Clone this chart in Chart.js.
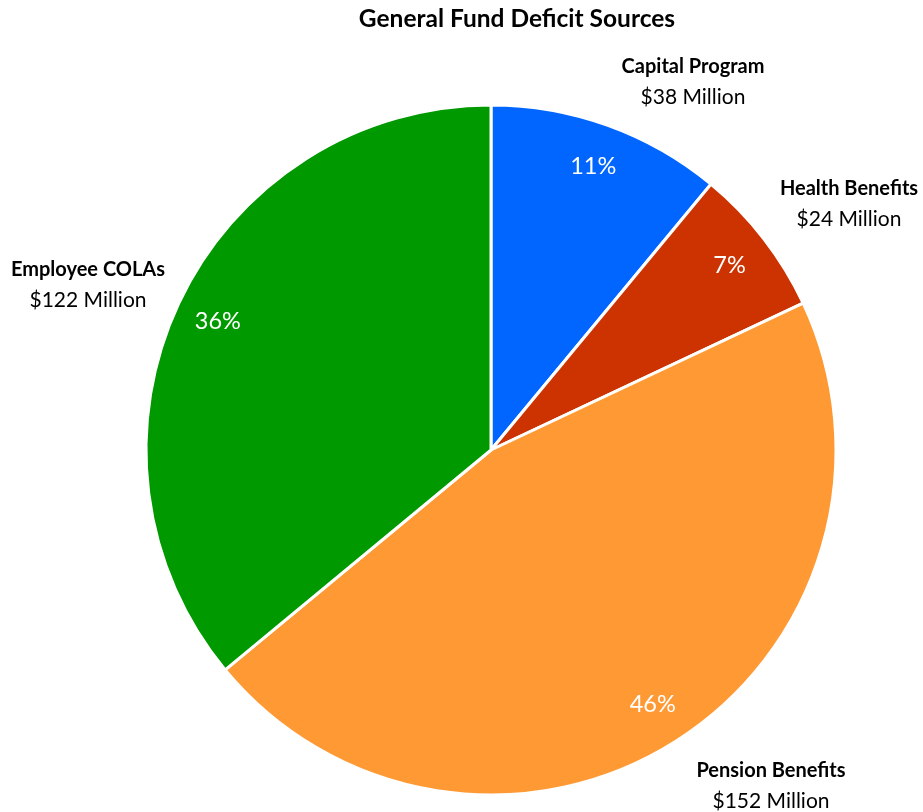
<!DOCTYPE html>
<html>
<head>
<meta charset="utf-8">
<script src="https://cdn.jsdelivr.net/npm/chart.js@4.4.1/dist/chart.umd.min.js"></script>
<style>
  html, body { margin: 0; padding: 0; background: #ffffff; }
  #wrap { width: 923px; height: 812px; }
</style>
</head>
<body>
<div id="wrap"><canvas id="c" width="923" height="812"></canvas></div>
<script>
// Deficit sources, in display order (clockwise from 12 o'clock)
const categories = ['Capital Program', 'Health Benefits', 'Pension Benefits', 'Employee COLAs'];
const shareOfDeficit = [11, 7, 46, 36];          // percent of the total deficit
const amountMillions = [38, 24, 152, 122];       // $ millions
const sliceColors = ['#0066FF', '#CC3300', '#FF9933', '#009900'];

const FONT = 'Lato, "Open Sans", "Liberation Sans", sans-serif';

// Where each category label sits, relative to the pie centre (px)
const calloutOffsets = [
  { dx: 202, dy: -368 },
  { dx: 358, dy: -246 },
  { dx: 280, dy: 336 },
  { dx: -403, dy: -165 }
];

const labelPlugin = {
  id: 'sliceLabels',
  afterDatasetsDraw(chart) {
    const ctx = chart.ctx;
    const meta = chart.getDatasetMeta(0);
    const data = chart.data.datasets[0].data;
    ctx.save();
    ctx.textAlign = 'center';
    ctx.textBaseline = 'middle';

    meta.data.forEach((arc, i) => {
      const p = arc.getProps(['x', 'y', 'startAngle', 'endAngle', 'outerRadius'], true);
      const mid = (p.startAngle + p.endAngle) / 2;
      const r = p.outerRadius * 0.875;
      ctx.fillStyle = '#ffffff';
      ctx.font = '23.5px ' + FONT;
      ctx.fillText(data[i] + '%', p.x + Math.cos(mid) * r, p.y + Math.sin(mid) * r);

      const o = calloutOffsets[i];
      const lx = p.x + o.dx, ly = p.y + o.dy;
      ctx.fillStyle = '#000000';
      ctx.font = 'bold 20px ' + FONT;
      ctx.fillText(categories[i], lx, ly - 15);
      ctx.font = '21px ' + FONT;
      ctx.fillText('$' + amountMillions[i] + ' Million', lx, ly + 15);
    });

    // Chart title
    ctx.fillStyle = '#000000';
    ctx.font = 'bold 24.5px ' + FONT;
    ctx.fillText('General Fund Deficit Sources', 517, 19);
    ctx.restore();
  }
};

new Chart(document.getElementById('c'), {
  type: 'pie',
  data: {
    labels: categories,
    datasets: [{
      data: shareOfDeficit,
      backgroundColor: sliceColors,
      borderColor: '#ffffff',
      borderWidth: 3
    }]
  },
  options: {
    responsive: false,
    animation: false,
    layout: { padding: { left: 144.5, right: 85.5, top: 103.5, bottom: 15.5 } },
    plugins: {
      legend: { display: false },
      title: { display: false },
      tooltip: { enabled: false }
    }
  },
  plugins: [labelPlugin]
});
</script>
</body>
</html>
